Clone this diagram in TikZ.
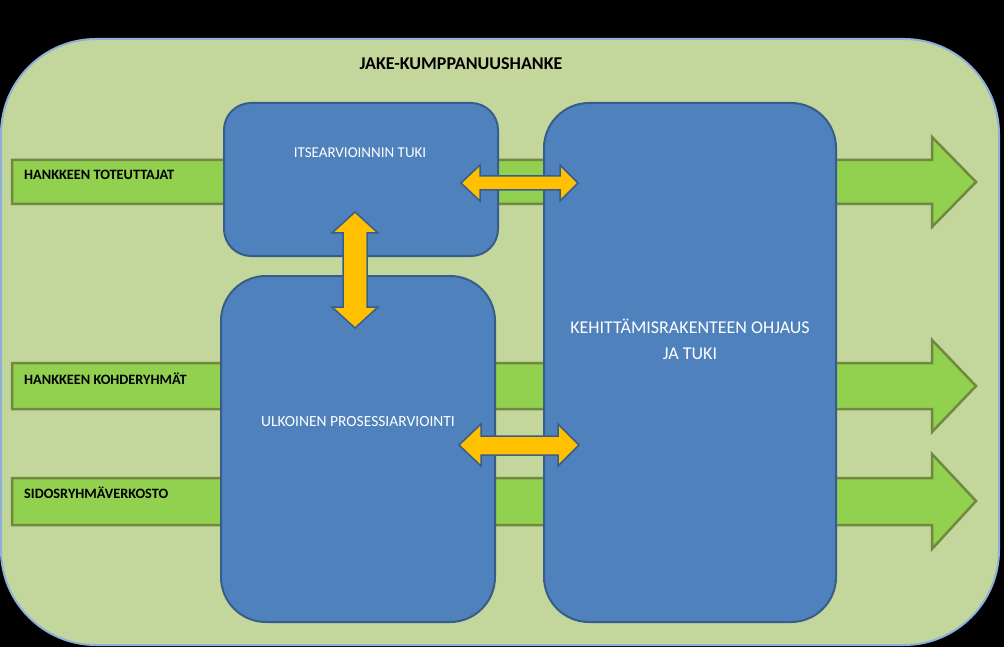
\documentclass[tikz,border=0pt]{standalone}
\usepackage{fontspec}
\setmainfont{Carlito}
\begin{document}
\begin{tikzpicture}[x=1pt,y=-1pt,
  outerbox/.style={fill=outerfill,draw=outerline,line width=2pt},
  greenarrow/.style={fill=arrowgreen,draw=arrowline,line width=2.5pt},
  bluebox/.style={fill=boxblue,draw=boxline,line width=2pt},
  orangearrow/.style={fill=orangefill,draw=boxline,line width=1.5pt,line join=miter},
  blacklabel/.style={font=\fontsize{14.3}{16}\selectfont\bfseries,text=black,inner sep=0pt,anchor=west},
  whitelabel/.style={font=\fontsize{15}{17}\selectfont,text=white,inner sep=0pt,align=center},
]
\definecolor{outerfill}{HTML}{C3D69B}
\definecolor{outerline}{HTML}{8EB0DA}
\definecolor{arrowgreen}{HTML}{92D050}
\definecolor{arrowline}{HTML}{71893F}
\definecolor{boxblue}{HTML}{4F81BD}
\definecolor{boxline}{HTML}{385D8A}
\definecolor{orangefill}{HTML}{FFC000}
\fill[black] (0,0) rectangle (1004,647);
\useasboundingbox (0,0) rectangle (1004,647);
\draw[outerbox,rounded corners=95pt] (1,39) rectangle (999,645);
% green arrows
\draw[greenarrow] (12,160) -- (932,160) -- (932,137) -- (976,182) -- (932,227) -- (932,204) -- (12,204) -- cycle;
\draw[greenarrow] (12,363) -- (932,363) -- (932,340) -- (976,386) -- (932,432) -- (932,409) -- (12,409) -- cycle;
\draw[greenarrow] (12,478) -- (932,478) -- (932,454) -- (976,501) -- (932,549) -- (932,525) -- (12,525) -- cycle;
% blue boxes
\node[bluebox,rounded corners=27pt,minimum width=274pt,minimum height=153pt,inner sep=0pt] (itse) at (361,179.5) {};
\node[bluebox,rounded corners=45pt,minimum width=274pt,minimum height=346pt,inner sep=0pt] (ulko) at (358,449) {};
\node[bluebox,rounded corners=45pt,minimum width=292pt,minimum height=519pt,inner sep=0pt] (kehi) at (690,362.5) {};
% orange double arrows
\draw[orangearrow] (461,183) -- (480,165) -- (480,176) -- (560,176) -- (560,165) -- (578,183) -- (560,201) -- (560,190) -- (480,190) -- (480,201) -- cycle;
\draw[orangearrow] (459,445) -- (481,424) -- (481,436) -- (558,436) -- (558,424) -- (579,445) -- (558,466) -- (558,455) -- (481,455) -- (481,466) -- cycle;
\draw[orangearrow] (355,212) -- (378,233) -- (367,233) -- (367,307) -- (378,307) -- (355,328) -- (332,307) -- (343,307) -- (343,233) -- (332,233) -- cycle;
% labels
\node[font=\fontsize{18}{20}\selectfont\bfseries,inner sep=0pt] (title) at (461,64) {JAKE-KUMPPANUUSHANKE};
\node[blacklabel] (toteuttajat) at (24,175) {HANKKEEN TOTEUTTAJAT};
\node[blacklabel] (kohde) at (24,379) {HANKKEEN KOHDERYHMÄT};
\node[blacklabel] (sidos) at (24,493) {SIDOSRYHMÄVERKOSTO};
\node[whitelabel] (itsetext) at (360,153) {ITSEARVIOINNIN TUKI};
\node[whitelabel,font=\fontsize{15.5}{17}\selectfont] (ulkotext) at (358,422) {ULKOINEN PROSESSIARVIOINTI};
\node[whitelabel,font=\fontsize{18}{26}\selectfont] (kehitext) at (690,339) {KEHITTÄMISRAKENTEEN OHJAUS\\JA TUKI};
\end{tikzpicture}
\end{document}
